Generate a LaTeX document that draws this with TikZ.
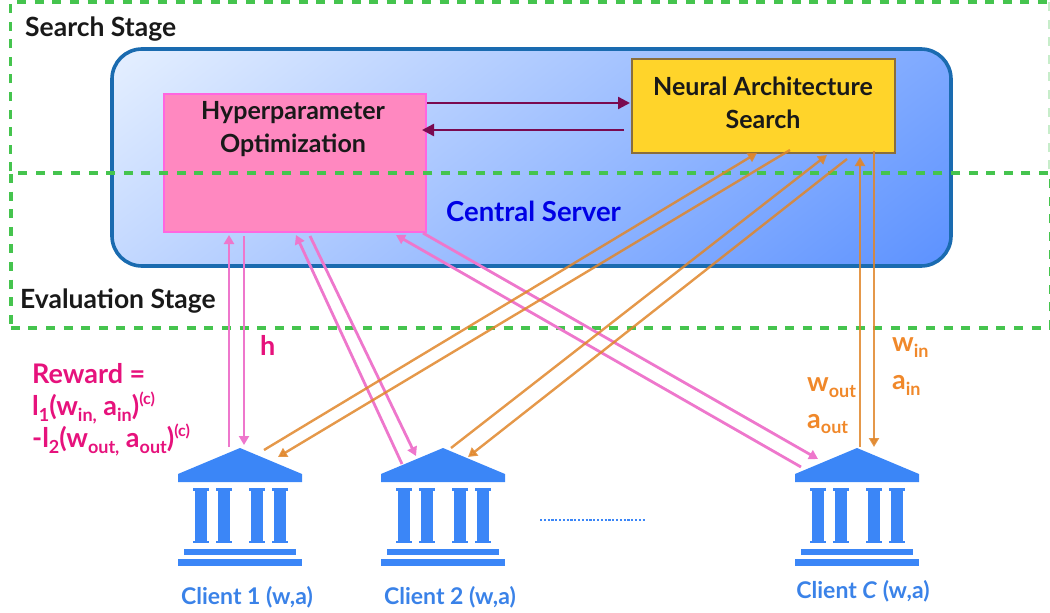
\documentclass[tikz,border=0pt]{standalone}
\usepackage{fontspec}
\setmainfont{Lato}[UprightFont=*-Bold,BoldFont=*-Bold]
\usetikzlibrary{arrows.meta}
\definecolor{stagegreen}{HTML}{45C44E}
\definecolor{serverblue}{HTML}{1A6BB0}
\definecolor{bankblue}{HTML}{3B86F7}
\definecolor{pinkline}{HTML}{EE77CC}
\definecolor{orangeline}{HTML}{E0862A}
\definecolor{maroonline}{HTML}{7A0A50}
\definecolor{rewardpink}{HTML}{E6127C}
\definecolor{labelorange}{HTML}{F0882A}
\definecolor{clientblue}{HTML}{3A82E8}
\pgfdeclarefunctionalshading{serverfade}{\pgfpoint{0bp}{0bp}}{\pgfpoint{100bp}{100bp}}{}{
  100 exch sub 0.25 mul exch 0.75 mul add 100 div
  0.25 sub 2 mul
  dup -0.54 mul 0.90 add exch
  -0.37 mul 0.94 add
  1.0
}
\newcommand{\lowtxt}[1]{\raisebox{-.22em}{\fontsize{18}{18}\selectfont #1}}
\newcommand{\hightxt}[1]{\raisebox{.4em}{\fontsize{16}{16}\selectfont #1}}
\tikzset{
  stagebox/.style={draw=stagegreen,line width=3.6pt,dash pattern=on 9pt off 8.6pt},
  pinkarrow/.style={draw=pinkline,line width=2.8pt,-{Triangle[width=10pt,length=9pt]}},
  orangearrow/.style={draw=orangeline,opacity=.85,line width=2.4pt,-{Triangle[width=10pt,length=9pt]}},
  maroonarrow/.style={draw=maroonline,line width=2.4pt,-{Triangle[width=12pt,length=12pt]}},
  txt/.style={inner sep=0pt,anchor=west},
  boxtxt/.style={font=\fontsize{25}{33}\selectfont,align=center,text=black!90},
  stagetxt/.style={txt,font=\fontsize{26.5}{30}\selectfont,text=black!90},
  clientlbl/.style={inner sep=0pt,text=clientblue,font=\fontsize{23}{26}\selectfont},
  orangelbl/.style={txt,text=labelorange,font=\fontsize{27}{30}\selectfont},
  rewardlbl/.style={txt,text=rewardpink,font=\fontsize{27}{30}\selectfont},
  bankfill/.style={fill=bankblue,draw=none},
  bankspot/.style={minimum width=124pt,minimum height=118pt,inner sep=0pt,draw=none}
}
\newcommand{\bankicon}[1]{%
  \begin{scope}[shift={(#1)}]
    \fill[bankfill] (-62,26)--(0,0)--(62,26)--(62,34)--(-62,34)--cycle;
    \foreach \cx in {-39.5,-16.5,16.5,39.5}{
      \fill[bankfill] (\cx-6,40)rectangle(\cx+6,95);
      \fill[bankfill] (\cx-8,40)rectangle(\cx+8,42.5);
      \fill[bankfill] (\cx-8,92.5)rectangle(\cx+8,95);
    }
    \fill[bankfill] (-56,101)rectangle(56,106.5);
    \fill[bankfill] (-62,111)rectangle(62,118);
  \end{scope}}
\begin{document}
\begin{tikzpicture}[x=1pt,y=-1pt]
\useasboundingbox (0,0) rectangle (1050,613);
% central server
\node[draw=serverblue,line width=3.6pt,rounded corners=30pt,minimum width=839pt,minimum height=217pt,inner sep=0pt,
  shade,shading=serverfade,shading angle=0] (server) at (531.5,157.5) {};
% boxes
\node[draw={rgb,255:red,255;green,102;blue,224},fill={rgb,255:red,255;green,136;blue,192},line width=2.4pt,minimum width=262pt,minimum height=138pt,inner sep=0pt] (hpo) at (295,163) {};
\node[draw={rgb,255:red,138;green,110;blue,60},fill={rgb,255:red,255;green,212;blue,42},line width=1.4pt,minimum width=263pt,minimum height=94pt,inner sep=0pt] (nas) at (763.5,106) {};
\node[boxtxt] (hpotxt) at (293,129) {Hyperparameter\\Optimization};
\node[boxtxt] (nastxt) at (763,103) {Neural Architecture\\Search};
\node[txt,text=blue!90!black,font=\fontsize{27.5}{30}\selectfont] (servertxt) at (446,211) {Central Server};
% stage frames
\node[minimum width=1038.5pt,minimum height=169pt,inner sep=0pt,anchor=north west] (search) at (10.5,2) {};
\node[stagebox,minimum width=1039.5pt,minimum height=155pt,inner sep=0pt,anchor=north west] (evalstage) at (9,171) {};
\draw[stagebox] (search.south west)--(search.north west)--(search.north east);
\draw[stagebox,draw=stagegreen!30] (search.north east)--(search.south east);
\node[stagetxt] (searchtxt) at (25,29) {Search Stage};
\node[stagetxt] (evaltxt) at (20,301) {Evaluation Stage};
% clients
\bankicon{240,448}\bankicon{443,448}\bankicon{857,448}
\node[bankspot] (c1) at (240,507) {};
\node[bankspot] (c2) at (443,507) {};
\node[bankspot] (c3) at (857,507) {};
\node[clientlbl] (c1txt) at (247,597) {Client 1 (w,a)};
\node[clientlbl] (c2txt) at (450,597) {Client 2 (w,a)};
\node[clientlbl] (c3txt) at (863,591) {Client \textit{C} (w,a)};
\coordinate (dotsa) at (540,520); \coordinate (dotsb) at (646,520);
\draw[bankblue,line width=2.8pt,dash pattern=on 2.2pt off 1.6pt] (dotsa)--(dotsb);
% connector ends
\coordinate (p1a) at (229,447); \coordinate (p1b) at (229,235);
\coordinate (p2a) at (244,236); \coordinate (p2b) at (244,445);
\coordinate (p3a) at (402,464); \coordinate (p3b) at (296,235);
\coordinate (p4a) at (310,236); \coordinate (p4b) at (416,456);
\coordinate (p5a) at (801,467); \coordinate (p5b) at (396,235);
\coordinate (p6a) at (423,233); \coordinate (p6b) at (818,459);
\coordinate (o1a) at (264,450); \coordinate (o1b) at (757,153);
\coordinate (o2a) at (790,150); \coordinate (o2b) at (278,457);
\coordinate (o3a) at (451,448); \coordinate (o3b) at (827,155);
\coordinate (o4a) at (847,159); \coordinate (o4b) at (468,457);
\coordinate (o5a) at (860,447); \coordinate (o5b) at (860,157);
\coordinate (o6a) at (874,151); \coordinate (o6b) at (874,447);
\coordinate (m1a) at (427,103); \coordinate (m1b) at (630,103);
\coordinate (m2a) at (624,130); \coordinate (m2b) at (422,130);
\foreach \a/\b in {p1a/p1b,p2a/p2b,p3a/p3b,p4a/p4b,p5a/p5b,p6a/p6b}{\draw[pinkarrow] (\a)--(\b);}
\foreach \a/\b in {o1a/o1b,o2a/o2b,o3a/o3b,o4a/o4b,o5a/o5b,o6a/o6b}{\draw[orangearrow] (\a)--(\b);}
\foreach \a/\b in {m1a/m1b,m2a/m2b}{\draw[maroonarrow] (\a)--(\b);}
% labels
\node[rewardlbl] (h) at (260,345) {h};
\node[rewardlbl] (r1) at (32,374) {Reward =};
\node[rewardlbl] (r2) at (32,408) {l\lowtxt{1}(w\lowtxt{in,} a\lowtxt{in})\hightxt{(c)}};
\node[rewardlbl] (r3) at (32,440) {-l\lowtxt{2}(w\lowtxt{out,} a\lowtxt{out})\hightxt{(c)}};
\node[orangelbl] (wout) at (807,388) {w\lowtxt{out}};
\node[orangelbl] (aout) at (807,424) {a\lowtxt{out}};
\node[orangelbl] (win) at (892,348) {w\lowtxt{in}};
\node[orangelbl] (ain) at (892,385) {a\lowtxt{in}};
\end{tikzpicture}
\end{document}
